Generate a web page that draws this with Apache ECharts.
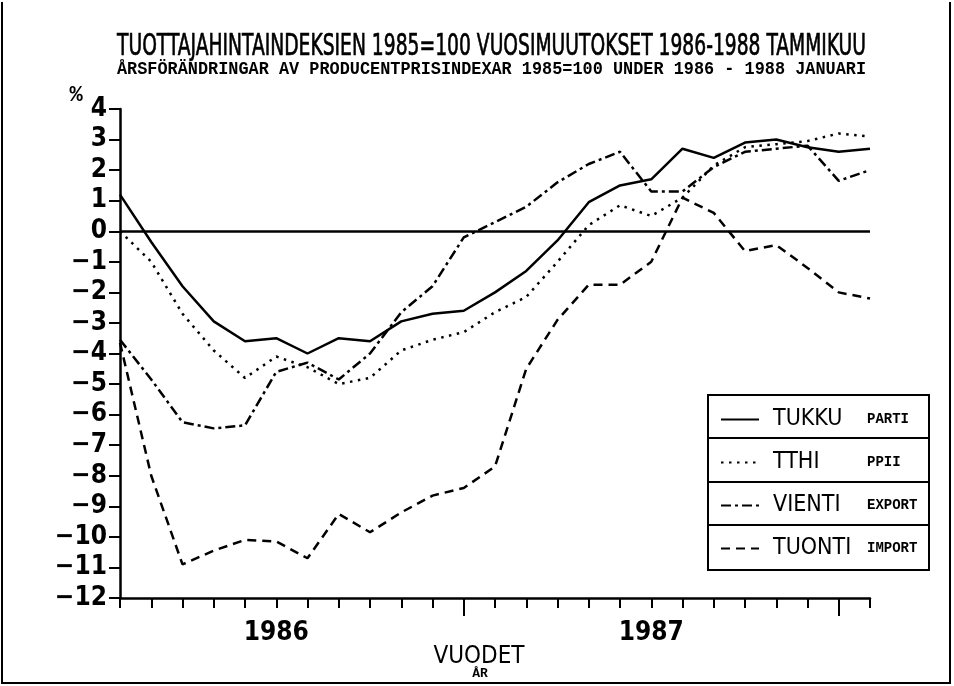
<!DOCTYPE html>
<html>
<head>
<meta charset="utf-8">
<script src="https://cdn.jsdelivr.net/npm/echarts@6/dist/echarts.min.js"></script>
</head>
<body style="margin:0;background:#fff">
<div id="main" style="width:954px;height:686px"></div>
<script>
// kuukaudet tammikuu 1986 - tammikuu 1988
var months = ['1986-01','1986-02','1986-03','1986-04','1986-05','1986-06','1986-07','1986-08','1986-09','1986-10','1986-11','1986-12',
              '1987-01','1987-02','1987-03','1987-04','1987-05','1987-06','1987-07','1987-08','1987-09','1987-10','1987-11','1987-12',
              '1988-01'];
var tukku  = [1.2, -0.35, -1.8, -2.95, -3.6, -3.5, -4.0, -3.5, -3.6, -2.95, -2.7, -2.6, -2.0, -1.3, -0.3, 0.95, 1.5, 1.7, 2.7, 2.4, 2.9, 3.0, 2.75, 2.6, 2.7];
var tthi   = [0.0, -1.0, -2.7, -3.9, -4.8, -4.1, -4.45, -5.0, -4.8, -3.9, -3.55, -3.3, -2.65, -2.15, -1.0, 0.2, 0.85, 0.5, 1.1, 2.15, 2.75, 2.85, 2.95, 3.2, 3.1];
var vienti = [-3.55, -4.85, -6.25, -6.45, -6.35, -4.6, -4.3, -4.85, -4.0, -2.65, -1.8, -0.2, 0.3, 0.8, 1.6, 2.2, 2.6, 1.3, 1.3, 2.1, 2.6, 2.7, 2.8, 1.65, 2.0];
var tuonti = [-3.65, -8.0, -10.9, -10.45, -10.1, -10.15, -10.7, -9.25, -9.85, -9.2, -8.65, -8.4, -7.7, -4.5, -2.9, -1.75, -1.75, -1.0, 1.1, 0.6, -0.65, -0.45, -1.2, -2.0, -2.2];
var names  = ['TUKKU', 'TTHI', 'VIENTI', 'TUONTI'];
var namesSv = ['PARTI', 'PPII', 'EXPORT', 'IMPORT'];
var yearTicks = [5, 17];     // vuosien nimet
var majorTicks = [11, 23];   // pitkät jakoviivat

var title1 = 'TUOTTAJAHINTAINDEKSIEN 1985=100 VUOSIMUUTOKSET 1986-1988 TAMMIKUU';
var title2 = 'ÅRSFÖRÄNDRINGAR AV PRODUCENTPRISINDEXAR 1985=100 UNDER 1986 - 1988 JANUARI';

var narrow = '"Liberation Sans Narrow", "DejaVu Sans Condensed", Roboto, sans-serif';
var mono = '"Liberation Mono", "DejaVu Sans Mono", monospace';

// leveys -> vaakaskaalaus
var cv = document.createElement('canvas').getContext('2d');
function fit(str, font, w) { cv.font = font; return w / cv.measureText(str).width; }
var f1 = 'normal 31px ' + narrow;
var f2 = 'bold 19px ' + mono;

var dom = document.getElementById('main');
var myChart = echarts.init(dom);

function lineSeries(name, data, width, type) {
  return {
    name: name,
    type: 'line',
    data: data,
    symbol: 'none',
    showSymbol: false,
    animation: false,
    itemStyle: { color: '#000' },
    lineStyle: { color: '#000', width: width, type: type }
  };
}

var series = [
  lineSeries(names[0], tukku, 2.5, 'solid'),
  lineSeries(names[1], tthi, 2.5, [2.5, 5.5]),
  lineSeries(names[2], vienti, 2.5, [10, 4, 3, 4]),
  lineSeries(names[3], tuonti, 2.5, [9, 6])
];
series[0].markLine = {
  silent: true,
  symbol: ['none', 'none'],
  label: { show: false },
  lineStyle: { color: '#000', width: 2.5, type: 'solid' },
  data: [{ yAxis: 0 }]
};

var option = {
  animation: false,
  backgroundColor: '#fff',
  grid: { left: 120, right: 84, top: 109, bottom: 88 },
  legend: {
    orient: 'vertical',
    left: 720,
    top: 408,
    padding: 0,
    itemWidth: 38,
    itemHeight: 20,
    itemGap: 20,
    selectedMode: false,
    itemStyle: { opacity: 0 },
    data: names,
    formatter: function (n) {
      return '{a|' + n + '}{b|' + namesSv[names.indexOf(n)] + '}';
    },
    textStyle: {
      rich: {
        a: { fontFamily: narrow, fontSize: 23, color: '#000', width: 94, padding: [0, 0, 0, 9], lineHeight: 20 },
        b: { fontFamily: mono, fontWeight: 'bold', fontSize: 14, color: '#000', lineHeight: 20 }
      }
    }
  },
  xAxis: [{
    type: 'category',
    data: months,
    boundaryGap: false,
    axisLine: { onZero: false, lineStyle: { color: '#000', width: 2.5 } },
    axisTick: { interval: 0, length: 10, lineStyle: { color: '#000', width: 2 } },
    axisLabel: {
      interval: function (i) { return yearTicks.indexOf(i) >= 0; },
      formatter: function (v) { return v.slice(0, 4); },
      margin: 22,
      fontFamily: narrow,
      fontWeight: 'bold',
      fontSize: 26,
      color: '#000'
    },
    splitLine: { show: false }
  }, {
    type: 'category',
    data: months,
    boundaryGap: false,
    position: 'bottom',
    axisLine: { show: false, onZero: false },
    axisTick: { interval: function (i) { return majorTicks.indexOf(i) >= 0; }, length: 18, lineStyle: { color: '#000', width: 2 } },
    axisLabel: { show: false },
    splitLine: { show: false }
  }],
  yAxis: {
    type: 'value',
    min: -12,
    max: 4,
    interval: 1,
    axisLine: { show: true, lineStyle: { color: '#000', width: 2.5 } },
    axisTick: { show: true, length: 11, lineStyle: { color: '#000', width: 2 } },
    axisLabel: {
      margin: 13,
      fontFamily: narrow,
      fontWeight: 'bold',
      fontSize: 26,
      color: '#000',
      formatter: function (v) { return String(v).replace('-', '\u2212'); }
    },
    splitLine: { show: false }
  },
  series: series,
  graphic: [
    { type: 'text', x: 117, y: 47, scaleX: fit(title1, f1, 749), style: { text: title1, font: f1, fill: '#000', stroke: '#000', lineWidth: 0.7, verticalAlign: 'middle' } },
    { type: 'text', x: 117, y: 69, scaleX: fit(title2, f2, 749), style: { text: title2, font: f2, fill: '#000', verticalAlign: 'middle' } },
    { type: 'text', x: 76, y: 95, style: { text: '%', font: 'bold 22px ' + mono, fill: '#000', align: 'center', verticalAlign: 'middle' } },
    { type: 'text', x: 479, y: 657, style: { text: 'VUODET', font: 'normal 24px ' + narrow, fill: '#000', align: 'center', verticalAlign: 'middle' } },
    { type: 'text', x: 480, y: 674, style: { text: 'ÅR', font: 'bold 13px ' + mono, fill: '#000', align: 'center', verticalAlign: 'middle' } },
    // selitelaatikko
    { type: 'rect', shape: { x: 708, y: 395, width: 221, height: 175 }, style: { fill: 'none', stroke: '#000', lineWidth: 2 } },
    { type: 'line', shape: { x1: 708, y1: 438, x2: 929, y2: 438 }, style: { stroke: '#000', lineWidth: 2 } },
    { type: 'line', shape: { x1: 708, y1: 482, x2: 929, y2: 482 }, style: { stroke: '#000', lineWidth: 2 } },
    { type: 'line', shape: { x1: 708, y1: 525, x2: 929, y2: 525 }, style: { stroke: '#000', lineWidth: 2 } },
    // reunat
    { type: 'polyline', shape: { points: [[2, 2], [2, 683], [950, 683], [950, 2]] }, style: { fill: 'none', stroke: '#000', lineWidth: 2 } }
  ]
};
myChart.setOption(option, true);
</script>
</body>
</html>
